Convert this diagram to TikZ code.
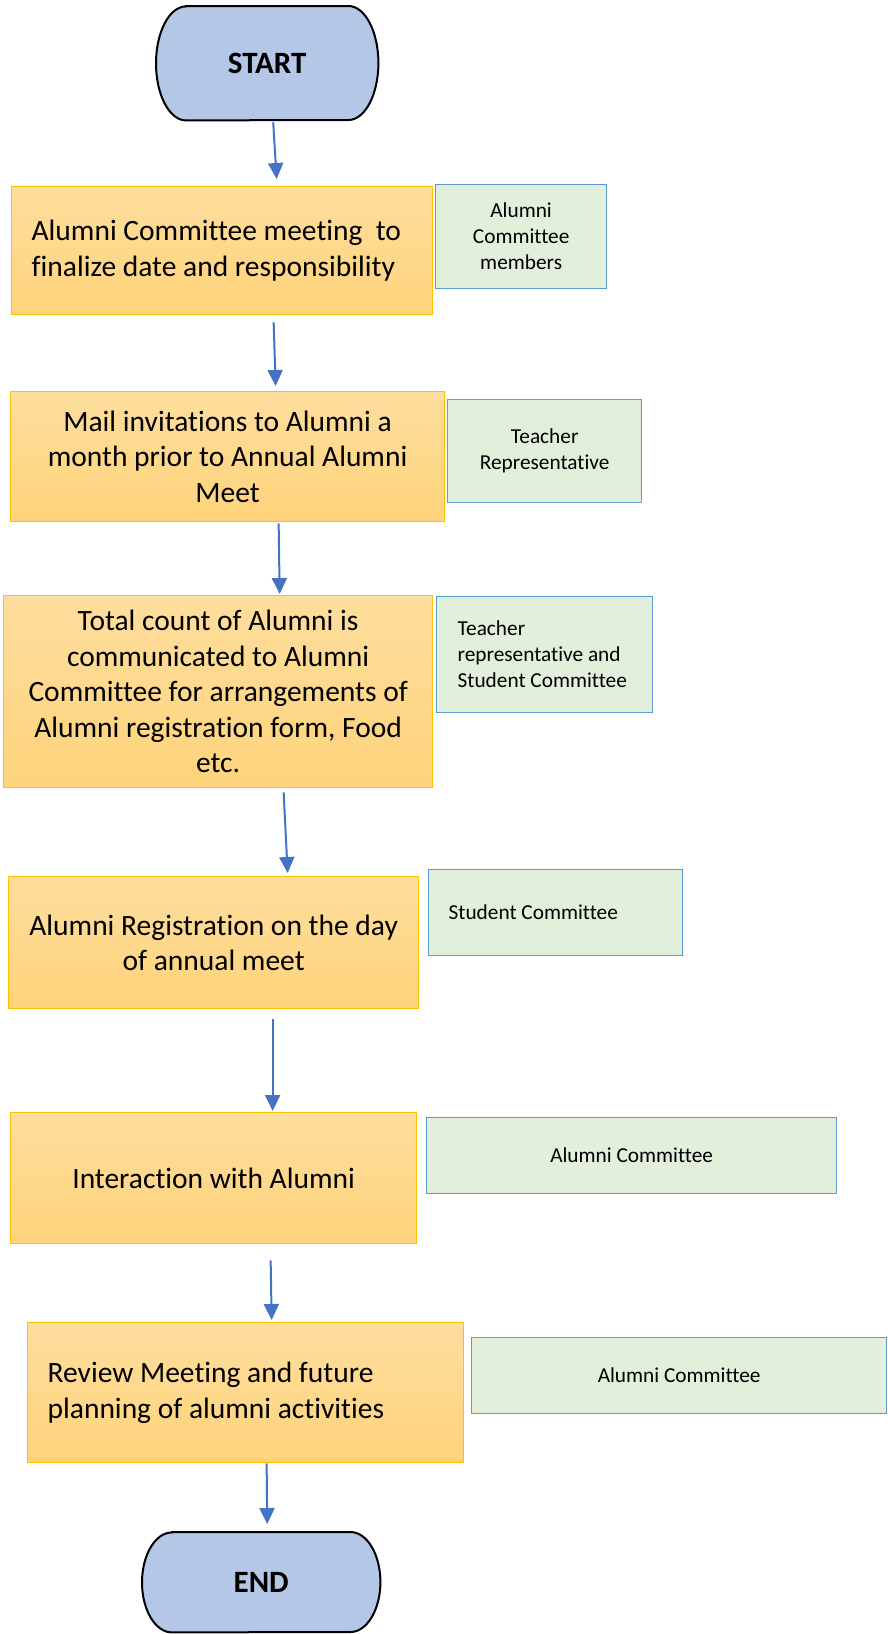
\documentclass[tikz,border=0pt]{standalone}
\usepackage{fontspec}
\setmainfont{Carlito}[Ligatures={NoCommon}]
\usetikzlibrary{arrows.meta,backgrounds}

\definecolor{stepfillA}{RGB}{254,222,158}
\definecolor{stepfillB}{RGB}{254,211,122}
\definecolor{stepline}{RGB}{255,192,0}
\definecolor{rolefill}{RGB}{226,239,218}
\definecolor{roleline}{RGB}{91,155,213}
\definecolor{termfill}{RGB}{180,199,231}
\definecolor{flowline}{RGB}{68,114,196}

\begin{document}
\begin{tikzpicture}[x=1pt,y=-1pt,
  stepbox/.style={draw=stepline, line width=1.3pt, top color=stepfillA, bottom color=stepfillB,
    anchor=north west, inner sep=0pt, font=\fontsize{29.5}{35.5}\selectfont},
  rolebox/.style={draw=roleline, line width=1.3pt, fill=rolefill,
    anchor=north west, inner sep=0pt, font=\fontsize{21.3}{26}\selectfont},
  termbox/.style={anchor=north west, inner sep=0pt, font=\fontsize{31}{36}\selectfont\bfseries},
  termshape/.style={draw=black, line width=2pt, fill=termfill},
  flow/.style={draw=flowline, line width=2pt, -{Triangle[width=15pt,length=16pt]}},
]
\useasboundingbox (0,0) rectangle (888,1634);

% terminators
\node[termbox, minimum width=222pt, minimum height=114pt] (start) at (156,6) {START};
\node[termbox, minimum width=238pt, minimum height=100pt] (end) at (142,1532) {END};
\begin{scope}[on background layer]
  \path[termshape] ([xshift=30pt]start.north west) -- ([xshift=-30pt]start.north east)
    arc[start angle=90,end angle=-90,x radius=30pt,y radius=57pt]
    -- ([xshift=30pt]start.south west)
    arc[start angle=270,end angle=90,x radius=30pt,y radius=57pt] -- cycle;
  \path[termshape] ([xshift=30pt]end.north west) -- ([xshift=-30pt]end.north east)
    arc[start angle=90,end angle=-90,x radius=30pt,y radius=50pt]
    -- ([xshift=30pt]end.south west)
    arc[start angle=270,end angle=90,x radius=30pt,y radius=50pt] -- cycle;
\end{scope}

% process steps
\node[stepbox, minimum width=421pt, minimum height=128pt, align=flush left, text width=381pt] (b1) at (11,186)
  {Alumni Committee meeting\ \ to\\finalize date and responsibility};
\node[stepbox, minimum width=434pt, minimum height=130pt, align=center] (b2) at (10,391)
  {Mail invitations to Alumni a\\month prior to Annual Alumni\\Meet};
\node[stepbox, minimum width=429pt, minimum height=192pt, align=center] (b3) at (3,595)
  {Total count of Alumni is\\communicated to Alumni\\Committee for arrangements of\\Alumni registration form, Food\\etc.};
\node[stepbox, minimum width=410pt, minimum height=132pt, align=center] (b4) at (8,876)
  {Alumni Registration on the day\\of annual meet};
\node[stepbox, minimum width=406pt, minimum height=131pt, align=center] (b5) at (10,1112)
  {Interaction with Alumni};
\node[stepbox, minimum width=436pt, minimum height=140pt, align=flush left, text width=396pt] (b6) at (27,1322)
  {Review Meeting and future\\planning of alumni activities};

% responsibilities
\node[rolebox, minimum width=171pt, minimum height=104pt, align=center] (g1) at (435,184)
  {Alumni\\Committee\\members};
\node[rolebox, minimum width=194pt, minimum height=103pt, align=center] (g2) at (447,399)
  {Teacher\\Representative};
\node[rolebox, minimum width=216pt, minimum height=116pt, align=flush left, text width=174pt] (g3) at (436,596)
  {Teacher\\representative and\\Student Committee};
\node[rolebox, minimum width=254pt, minimum height=86pt, align=flush left, text width=214pt] (g4) at (428,869)
  {Student Committee};
\node[rolebox, minimum width=410pt, minimum height=76pt, align=center] (g5) at (426,1117)
  {Alumni Committee};
\node[rolebox, minimum width=415pt, minimum height=76pt, align=center] (g6) at (471,1337)
  {Alumni Committee};

% flow
\draw[flow] ([xshift=6pt,yshift=-2pt]start.south) -- ([xshift=54.5pt,yshift=7pt]b1.north);
\draw[flow] ([xshift=51.5pt,yshift=-7pt]b1.south) -- ([xshift=48pt,yshift=5pt]b2.north);
\draw[flow] ([xshift=51pt,yshift=-1pt]b2.south) -- ([xshift=61.5pt,yshift=1pt]b3.north);
\draw[flow] ([xshift=65.5pt,yshift=-4pt]b3.south) -- ([xshift=74pt,yshift=3pt]b4.north);
\draw[flow] ([xshift=59pt,yshift=-10pt]b4.south) -- ([xshift=59pt,yshift=1pt]b5.north);
\draw[flow] ([xshift=57pt,yshift=-16pt]b5.south) -- ([xshift=26pt,yshift=2pt]b6.north);
\draw[flow] ([xshift=21pt,yshift=0pt]b6.south) -- ([xshift=6pt,yshift=8pt]end.north);
\end{tikzpicture}
\end{document}
